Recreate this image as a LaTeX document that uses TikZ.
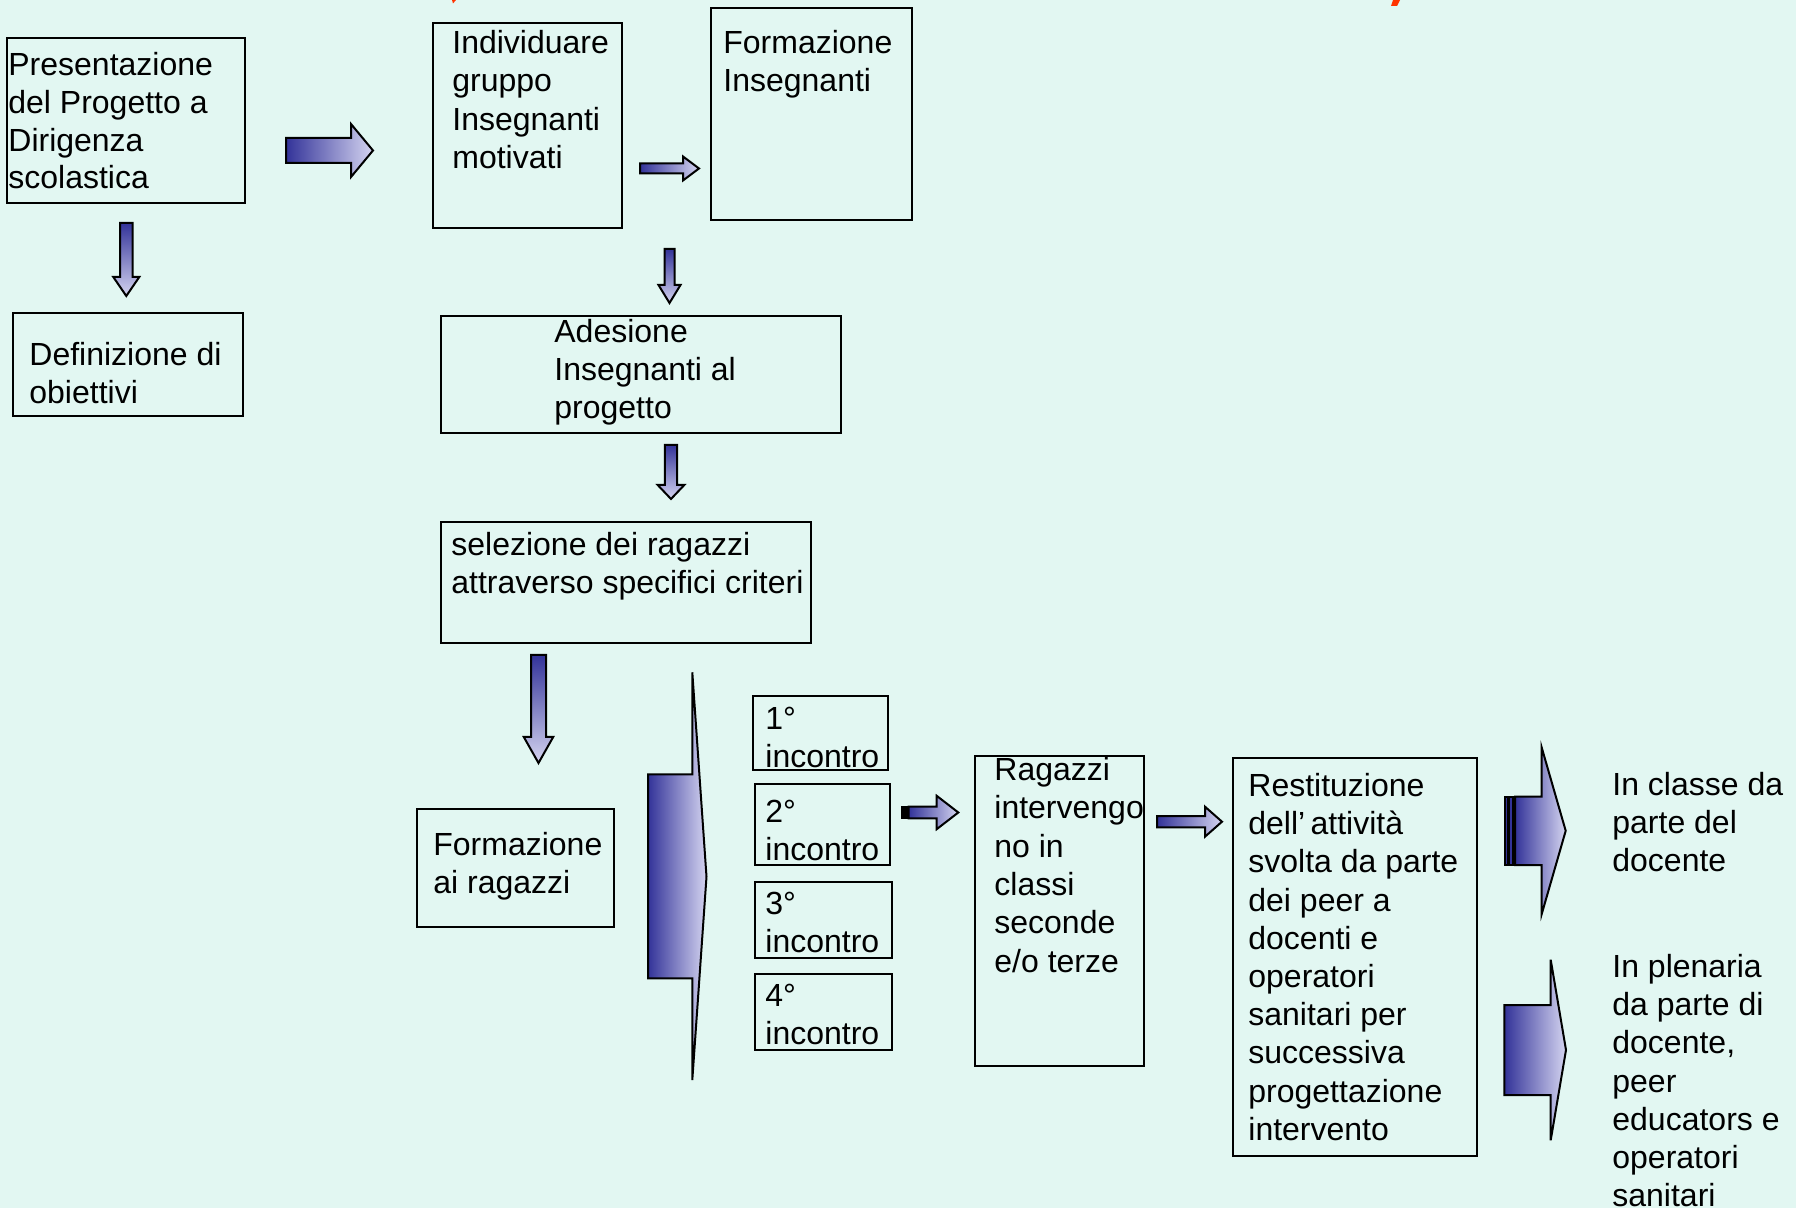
\documentclass[tikz,border=0pt]{standalone}
\usepackage{fontspec}
\setmainfont{Liberation Sans}

\definecolor{bgmint}{RGB}{226,247,242}
\definecolor{arrowdark}{RGB}{51,51,153}
\definecolor{arrowlight}{RGB}{212,212,240}
\definecolor{titlered}{RGB}{255,51,0}

\tikzset{
  box/.style={draw=black, line width=1pt, anchor=north west, inner sep=0pt},
  txt/.style={anchor=north west, inner sep=0pt, align=left,
    font=\fontsize{16pt}{18.9pt}\selectfont},
  blockarrow/.style={draw=black, line width=1pt, line join=miter},
  harrowfill/.style={left color=arrowdark, right color=arrowlight},
  varrowfill/.style={top color=arrowdark, bottom color=arrowlight},
}

% tail x, head x, tip x, centre y, shaft half, head half
\newcommand{\rightblock}[6]{%
  \draw[blockarrow, harrowfill] (#1,#4-#5) -- (#2,#4-#5) -- (#2,#4-#6) -- (#3,#4)
    -- (#2,#4+#6) -- (#2,#4+#5) -- (#1,#4+#5) -- cycle;}
% tail y, head y, tip y, centre x, shaft half, head half
\newcommand{\downblock}[6]{%
  \draw[blockarrow, varrowfill] (#4-#5,#1) -- (#4+#5,#1) -- (#4+#5,#2) -- (#4+#6,#2)
    -- (#4,#3) -- (#4-#6,#2) -- (#4-#5,#2) -- cycle;}

\begin{document}
\begin{tikzpicture}[x=0.5pt,y=-0.5pt]
  % Background
  \fill[bgmint] (0,0) rectangle (1796,1208);
  \useasboundingbox (0,0) rectangle (1796,1208);
  % what is left of the title
  \fill[titlered] (452,0) -- (456,0) -- (453,3.5) -- cycle;
  \fill[titlered] (1393,0) -- (1400,0) -- (1397,6) -- (1391,6) -- cycle;

  % Top row
  \node[box, minimum width=119pt, minimum height=82.5pt] (pres) at (6,37) {};
  \node[txt] (prestext) at ([shift={(2,15)}]pres.north west)
    {Presentazione\\del Progetto a\\Dirigenza\\scolastica};
  \node[box, minimum width=115pt, minimum height=51.5pt] (defin) at (12,312) {};
  \node[txt] (defintext) at ([shift={(17,30)}]defin.north west) {Definizione di\\obiettivi};
  \node[box, minimum width=94.5pt, minimum height=102.5pt] (indiv) at (432,22) {};
  \node[txt, font=\fontsize{16pt}{19.2pt}\selectfont] (indivtext) at ([shift={(20,8)}]indiv.north west)
    {Individuare\\gruppo\\Insegnanti\\motivati};
  \node[box, minimum width=100.5pt, minimum height=106pt] (formins) at (710,7) {};
  \node[txt] (formtext) at ([shift={(13,23)}]formins.north west) {Formazione\\Insegnanti};

  % Middle column
  \node[box, minimum width=200pt, minimum height=58.5pt] (ades) at (440,315) {};
  \node[txt] (adestext) at ([shift={(114,4)}]ades.north west) {Adesione\\Insegnanti al\\progetto};
  \node[box, minimum width=185pt, minimum height=60.5pt] (selez) at (440,521) {};
  \node[txt] (seleztext) at ([shift={(11,11)}]selez.north west)
    {selezione dei ragazzi\\attraverso specifici criteri};
  \node[box, minimum width=98.5pt, minimum height=59pt] (formrag) at (416,808) {};
  \node[txt] (formragtext) at ([shift={(17,24)}]formrag.north west) {Formazione\\ai ragazzi};

  % Incontri
  \node[box, minimum width=67.5pt, minimum height=37pt] (inc1) at (752,695) {};
  \node[txt, font=\fontsize{16pt}{18.8pt}\selectfont] at ([shift={(13,12)}]inc1.north west) {1°\\incontro};
  \node[box, minimum width=67.5pt, minimum height=40.5pt] (inc2) at (754,783) {};
  \node[txt, font=\fontsize{16pt}{18.8pt}\selectfont] at ([shift={(11,17)}]inc2.north west) {2°\\incontro};
  \node[box, minimum width=68.5pt, minimum height=38pt] (inc3) at (754,881) {};
  \node[txt, font=\fontsize{16pt}{18.8pt}\selectfont] at ([shift={(11,11)}]inc3.north west) {3°\\incontro};
  \node[box, minimum width=68.5pt, minimum height=38pt] (inc4) at (754,973) {};
  \node[txt, font=\fontsize{16pt}{18.8pt}\selectfont] at ([shift={(11,11)}]inc4.north west) {4°\\incontro};

  % Right part
  \node[box, minimum width=84.5pt, minimum height=155pt] (ragazzi) at (974,755) {};
  \node[txt, font=\fontsize{16pt}{19.15pt}\selectfont] (ragazzitext) at ([shift={(20,2)}]ragazzi.north west)
    {Ragazzi\\intervengo\\no in\\classi\\seconde\\e/o terze};
  \node[box, minimum width=122pt, minimum height=199pt] (restit) at (1232,757) {};
  \node[txt, font=\fontsize{16pt}{19.1pt}\selectfont] (restittext) at ([shift={(16,16)}]restit.north west)
    {Restituzione\\dell’\,attività\\svolta da parte\\dei peer a\\docenti e\\operatori\\sanitari per\\successiva\\progettazione\\intervento};
  \node[txt] (classe) at (1612,772) {In classe da\\parte del\\docente};
  \node[txt, font=\fontsize{16pt}{19.1pt}\selectfont] (plenaria) at (1612,954)
    {In plenaria\\da parte di\\docente,\\peer\\educators e\\operatori\\sanitari};

  % Block arrows
  \rightblock{286}{351}{373}{150.5}{12.5}{26.5}
  \rightblock{640}{683}{699}{168.5}{5}{12}
  \downblock{223}{277}{296}{126.3}{6.3}{13}
  \downblock{249}{285}{303}{669.5}{5}{11}
  \downblock{445}{485}{499}{671}{6.2}{13.3}
  \downblock{655}{737}{763}{538.5}{7.5}{14.7}
  \rightblock{1157}{1205}{1222}{821.7}{5.7}{15}
  % bracket arrow beside the incontri
  \draw[blockarrow, harrowfill] (648,774.3) -- (692.3,774.3) -- (692.3,672.3) -- (706.5,876.7)
    -- (692.3,1080) -- (692.3,978.3) -- (648,978.3) -- cycle;
  % striped arrows
  \rightblock{908.7}{936.7}{958.3}{812.5}{5.8}{16.7}
  \draw[blockarrow, fill=arrowdark] (901.7,806.7) rectangle (904,818.3);
  \draw[blockarrow, fill=arrowdark] (905,806.7) rectangle (907.3,818.3);
  \rightblock{1515}{1541.7}{1565.7}{830.8}{34.2}{83.3}
  \draw[blockarrow, fill=arrowdark] (1505,796.7) rectangle (1508.3,865);
  \draw[blockarrow, fill=arrowdark] (1509.3,796.7) rectangle (1513.3,865);
  \rightblock{1504.3}{1550.7}{1566}{1050}{45}{90.3}
\end{tikzpicture}
\end{document}
